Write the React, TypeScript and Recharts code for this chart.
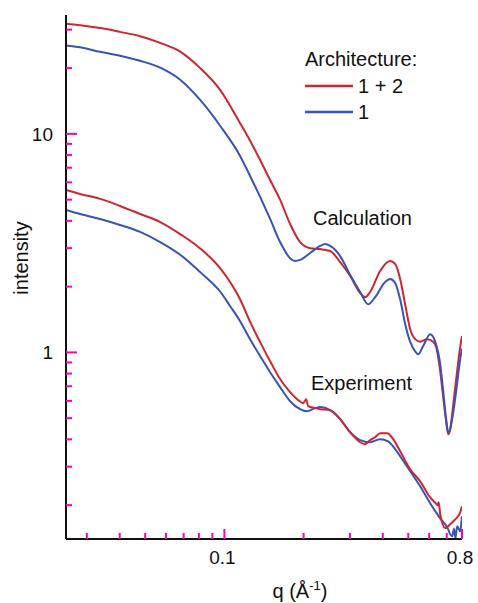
import { LineChart, Line, XAxis, YAxis } from "recharts";

// q (1/Å) vs intensity
const calcRed: [number, number][] = [
  [0.025, 31.9], [0.0283, 31.4], [0.0337, 30.5], [0.0401, 29.3], [0.0478, 28.0],
  [0.057, 26.1], [0.0679, 23.8], [0.0809, 20.0], [0.0963, 15.9], [0.1147, 11.2],
  [0.1252, 9.3], [0.1367, 7.6], [0.1492, 6.15], [0.1628, 5.0], [0.1777, 3.87],
  [0.194, 3.2], [0.2118, 3.0], [0.231, 2.97], [0.2523, 2.91], [0.2754, 2.59],
  [0.3006, 2.24], [0.3281, 1.87], [0.3428, 1.79], [0.358, 1.89], [0.3908, 2.36],
  [0.4266, 2.62], [0.4457, 2.54], [0.4656, 2.17], [0.4864, 1.66], [0.5082, 1.28],
  [0.5311, 1.15], [0.5547, 1.12], [0.5899, 1.15], [0.6217, 1.12], [0.638, 1.06],
  [0.661, 0.821], [0.6786, 0.624], [0.6966, 0.479], [0.709, 0.422], [0.7214, 0.445],
  [0.7341, 0.522], [0.7603, 0.755], [0.7874, 1.057], [0.8, 1.19],
];

const calcBlue: [number, number][] = [
  [0.025, 25.4], [0.0283, 24.9], [0.0337, 23.75], [0.0401, 22.8], [0.0478, 21.6],
  [0.057, 20.1], [0.0679, 17.7], [0.0809, 14.3], [0.0963, 10.9], [0.1147, 7.93],
  [0.1252, 6.42], [0.1367, 5.15], [0.1492, 4.08], [0.1628, 3.2], [0.1777, 2.7],
  [0.1857, 2.62], [0.194, 2.65], [0.2118, 2.85], [0.231, 3.07], [0.2415, 3.13],
  [0.2523, 3.07], [0.2754, 2.76], [0.3006, 2.26], [0.3281, 1.89], [0.3519, 1.66],
  [0.3741, 1.79], [0.4083, 2.1], [0.4266, 2.17], [0.4457, 2.08], [0.4656, 1.75],
  [0.4864, 1.35], [0.5082, 1.12], [0.5311, 1.01], [0.5452, 0.98], [0.5696, 1.07],
  [0.6055, 1.21], [0.6327, 1.12], [0.661, 0.884], [0.6786, 0.665], [0.6966, 0.495],
  [0.709, 0.431], [0.7214, 0.445], [0.7341, 0.495], [0.7603, 0.665], [0.7874, 0.932],
  [0.8, 1.04],
];

const expRed: [number, number][] = [
  [0.025, 5.54], [0.0283, 5.31], [0.0337, 5.04], [0.0401, 4.68], [0.0478, 4.3],
  [0.057, 3.95], [0.0679, 3.48], [0.0809, 2.99], [0.0963, 2.43], [0.1147, 1.75],
  [0.1252, 1.38], [0.1367, 1.115], [0.1492, 0.912], [0.1628, 0.755], [0.1777, 0.658],
  [0.189, 0.611], [0.1992, 0.586], [0.2045, 0.611], [0.2081, 0.568], [0.2213, 0.556],
  [0.231, 0.55], [0.2523, 0.544], [0.2754, 0.495], [0.3006, 0.431], [0.3281, 0.388],
  [0.3428, 0.38], [0.358, 0.397], [0.3741, 0.409], [0.3908, 0.427], [0.4156, 0.427],
  [0.438, 0.401], [0.4656, 0.353], [0.5082, 0.292], [0.5547, 0.257], [0.6055, 0.217],
  [0.6327, 0.205], [0.645, 0.2], [0.652, 0.206], [0.661, 0.182], [0.6905, 0.157],
  [0.7214, 0.1635], [0.754, 0.172], [0.7874, 0.1855], [0.8, 0.1976],
];

const expBlue: [number, number][] = [
  [0.025, 4.49], [0.0283, 4.3], [0.0337, 4.08], [0.0401, 3.83], [0.0478, 3.56],
  [0.057, 3.2], [0.0679, 2.8], [0.0809, 2.33], [0.0963, 1.9], [0.1051, 1.63],
  [0.1147, 1.39], [0.1252, 1.15], [0.1367, 0.962], [0.1492, 0.812], [0.1628, 0.694],
  [0.1777, 0.598], [0.194, 0.55], [0.2057, 0.538], [0.2213, 0.556], [0.231, 0.562],
  [0.2523, 0.544], [0.2754, 0.495], [0.3006, 0.431], [0.3281, 0.397], [0.358, 0.388],
  [0.3908, 0.401], [0.4193, 0.392], [0.4457, 0.361], [0.4656, 0.335], [0.5082, 0.286],
  [0.5547, 0.244], [0.6055, 0.204], [0.661, 0.174], [0.709, 0.155], [0.7214, 0.147],
  [0.7341, 0.144], [0.746, 0.156], [0.755, 0.141], [0.767, 0.16], [0.7874, 0.152],
  [0.795, 0.165], [0.8, 0.178],
];

const xTicks = [0.03, 0.04, 0.05, 0.06, 0.07, 0.08, 0.09, 0.1, 0.2, 0.3, 0.4, 0.5, 0.6, 0.7, 0.8];
const xMajor = [0.1, 0.8];
const yTicks = [0.2, 0.3, 0.4, 0.5, 0.6, 0.7, 0.8, 0.9, 1, 2, 3, 4, 5, 6, 7, 8, 9, 10, 20, 30];
const yMajor = [1, 10];

const X_DOMAIN = [0.025, 0.8];
const Y_DOMAIN = [0.14, 35];

const RED = "#cf2530";
const BLUE = "#3853b6";
const INK = "#111";
const TICK_INK = "#ff00aa";
const FONT = "'Liberation Sans', Arial, Helvetica, sans-serif";

const toPts = (d: [number, number][]) => d.map(([q, v]) => ({ q, v }));

// custom ticks: inward mark, label only on the major values
const XTick = ({ x, y, payload }: any) => {
  const major = xMajor.includes(payload.value);
  const len = major ? 10 : 6;
  return (
    <g>
      <line x1={x} x2={x} y1={y - 6} y2={y - 6 - len} stroke={TICK_INK} strokeWidth={2} />
      <text x={x - 2} y={y + 19} textAnchor="middle" fontSize={19} fontFamily={FONT} fill={INK}>
        {major ? payload.value : ""}
      </text>
    </g>
  );
};

const YTick = ({ x, y, payload }: any) => {
  const major = yMajor.includes(payload.value);
  const len = major ? 11 : 6;
  return (
    <g>
      <line x1={x + 6} x2={x + 6 + len} y1={y} y2={y} stroke={TICK_INK} strokeWidth={2} />
      <text x={x - 7} y={y + 7} textAnchor="end" fontSize={19} fontFamily={FONT} fill={INK}>
        {major ? payload.value : ""}
      </text>
    </g>
  );
};

export default function App() {
  return (
    <div style={{ position: "absolute", left: 0, top: 0, width: 478, height: 603, background: "#fff" }}>
      <LineChart width={478} height={603} margin={{ top: 15, right: 16, left: 0, bottom: 0 }}>
        <XAxis
          dataKey="q"
          type="number"
          scale="log"
          domain={X_DOMAIN}
          allowDataOverflow
          ticks={xTicks}
          interval={0}
          tick={<XTick />}
          tickLine={false}
          tickSize={0}
          tickMargin={6}
          height={64}
          axisLine={{ stroke: INK, strokeWidth: 2 }}
        />
        <YAxis
          dataKey="v"
          type="number"
          scale="log"
          domain={Y_DOMAIN}
          allowDataOverflow
          ticks={yTicks}
          interval={0}
          tick={<YTick />}
          tickLine={false}
          tickSize={0}
          tickMargin={6}
          width={66}
          axisLine={{ stroke: INK, strokeWidth: 2 }}
        />

        <Line data={toPts(calcRed)} dataKey="v" type="monotone" stroke={RED} strokeWidth={2} dot={false} isAnimationActive={false} />
        <Line data={toPts(calcBlue)} dataKey="v" type="monotone" stroke={BLUE} strokeWidth={2} dot={false} isAnimationActive={false} />
        <Line data={toPts(expBlue)} dataKey="v" type="monotone" stroke={BLUE} strokeWidth={2} dot={false} isAnimationActive={false} />
        <Line data={toPts(expRed)} dataKey="v" type="monotone" stroke={RED} strokeWidth={2} dot={false} isAnimationActive={false} />

        {/* legend and annotations */}
        <g fontFamily={FONT} fontSize={20} fill={INK}>
          <text x={305} y={66}>Architecture:</text>
          <line x1={305} x2={353} y1={86} y2={86} stroke={RED} strokeWidth={2.5} />
          <text x={358} y={93}>1 + 2</text>
          <line x1={305} x2={353} y1={112} y2={112} stroke={BLUE} strokeWidth={2.5} />
          <text x={358} y={119}>1</text>
          <text x={313} y={225}>Calculation</text>
          <text x={311} y={390}>Experiment</text>
          <text transform="translate(28,258) rotate(-90)" textAnchor="middle">intensity</text>
          <text x={300} y={598} textAnchor="middle">
            q (Å<tspan dy={-8} fontSize={13}>-1</tspan><tspan dy={8}>)</tspan>
          </text>
        </g>
      </LineChart>
    </div>
  );
}
